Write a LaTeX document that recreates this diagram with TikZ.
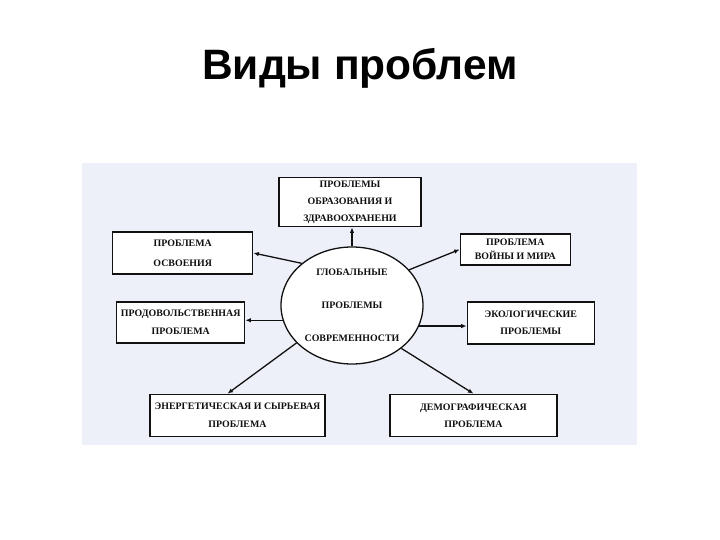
\documentclass[tikz,border=0pt]{standalone}
\usepackage{fontspec}
\setmainfont{Liberation Serif}
\newfontfamily\headfont{Liberation Sans}
\usetikzlibrary{arrows.meta,positioning,shapes.geometric}
\definecolor{ink}{HTML}{111111}
\definecolor{panelblue}{HTML}{EDF0F8}
\tikzset{
  every node/.style={text=ink},
  flow arrow/.style={-{Latex[length=5.5pt,width=4.5pt]},line width=1.3pt,draw=ink},
  problem box/.style={
    draw=ink,
    fill=white,
    line width=1.3pt,
    align=center,
    inner sep=2pt,
    font=\fontsize{9.9}{17}\selectfont\bfseries
  },
  core ellipse/.style={
    ellipse,
    draw=ink,
    fill=white,
    line width=1.3pt,
    align=center,
    inner sep=0pt,
    minimum width=142pt,
    minimum height=117pt,
    font=\fontsize{9.9}{17}\selectfont\bfseries
  },
  slide title/.style={font=\headfont\fontsize{42.5}{46}\selectfont\bfseries,anchor=base,text=black},
}
\begin{document}
\begin{tikzpicture}[x=1pt,y=-1pt]
  \useasboundingbox (0,0) rectangle (720,540);
  \fill[panelblue] (82,163) rectangle (637,445);

  \node[slide title] (title) at (360,80) {Виды проблем};

  \node[core ellipse] (global) at (352,305.5) {
    ГЛОБАЛЬНЫЕ\\[16pt]
    ПРОБЛЕМЫ\\[16pt]
    СОВРЕМЕННОСТИ
  };

  \node[problem box,above=19pt of global,xshift=-2pt,
        minimum width=142pt,minimum height=49pt] (health) {
    ПРОБЛЕМЫ\\
    ОБРАЗОВАНИЯ И\\
    ЗДРАВООХРАНЕНИ
  };
  \node[problem box,left=27pt of global,yshift=52.5pt,
        minimum width=140pt,minimum height=42pt] (develop) {
    ПРОБЛЕМА\\[3pt]
    ОСВОЕНИЯ
  };
  \node[problem box,right=36pt of global,yshift=56pt,
        minimum width=110pt,minimum height=31pt] (war) {
    ПРОБЛЕМА\\[-3pt]
    ВОЙНЫ И МИРА
  };
  \node[problem box,left=35pt of global,yshift=-17pt,
        minimum width=128pt,minimum height=41pt] (food) {
    ПРОДОВОЛЬСТВЕННАЯ\\[1pt]
    ПРОБЛЕМА
  };
  \node[problem box,right=43pt of global,yshift=-17.5pt,
        minimum width=127pt,minimum height=42pt] (ecology) {
    ЭКОЛОГИЧЕСКИЕ\\
    ПРОБЛЕМЫ
  };
  \node[problem box,below=29pt of global,xshift=-114.5pt,
        minimum width=175pt,minimum height=42pt] (energy) {
    ЭНЕРГЕТИЧЕСКАЯ И СЫРЬЕВАЯ\\[1pt]
    ПРОБЛЕМА
  };
  \node[problem box,below=29pt of global,xshift=121.5pt,
        minimum width=167pt,minimum height=42pt] (demo) {
    ДЕМОГРАФИЧЕСКАЯ\\
    ПРОБЛЕМА
  };

  \draw[flow arrow] (global.north) -- (global.north |- health.south);
  \draw[flow arrow] (global.140) -- (develop.east);
  \draw[flow arrow] (global.32) -- (war.west);
  \draw[flow arrow] (global.192) -- (global.192 -| food.east);
  \draw[flow arrow] (global.-17) -- (global.-17 -| ecology.west);
  \draw[flow arrow] (global.214) -- ([xshift=-10pt]energy.north);
  \draw[flow arrow] (global.-41) -- (demo.north);

\end{tikzpicture}
\end{document}
